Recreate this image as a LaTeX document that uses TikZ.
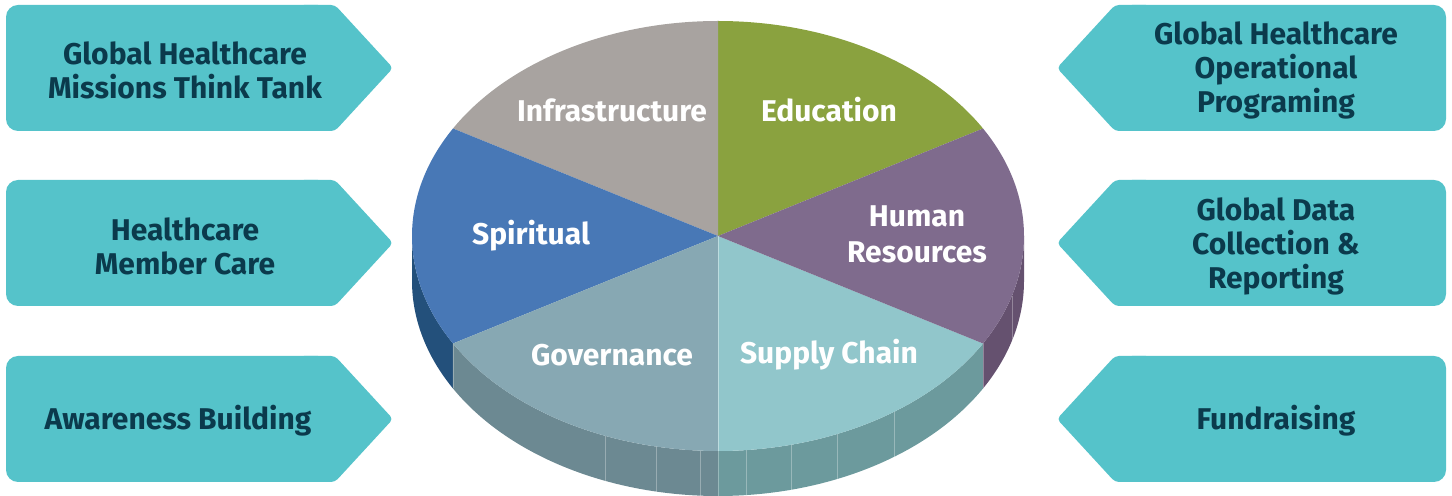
\documentclass[tikz,border=0pt]{standalone}
\usepackage{fontspec}
\setmainfont{Fira Sans}
\usetikzlibrary{positioning}

\definecolor{boxfill}{HTML}{55C3CA}
\definecolor{boxink}{HTML}{0B3A4C}
\definecolor{edu}{HTML}{8AA23F}
\definecolor{infra}{HTML}{A8A3A0}
\definecolor{spirit}{HTML}{4878B6}
\definecolor{gov}{HTML}{87A8B3}
\definecolor{supply}{HTML}{91C6CB}
\definecolor{human}{HTML}{7F6B8D}
\definecolor{spiritside}{HTML}{23507B}
\definecolor{govside}{HTML}{6C8992}
\definecolor{supplyside}{HTML}{6C9A9D}
\definecolor{humanside}{HTML}{65516F}

\begin{document}
\begin{tikzpicture}[x=0.5pt, y=-0.5pt,
    boxlabel/.style={text=boxink, align=center, font=\fontsize{15}{17}\selectfont\bfseries},
    pielabel/.style={text=white, align=center, font=\fontsize{15}{18}\selectfont\bfseries}]
    \useasboundingbox (0,0) rectangle (1452,496);

    % arrow boxes, left pointing right and right pointing left
    \foreach \top in {5,180,356} {
        \fill[boxfill, rounded corners=6pt] (6,\top) rectangle (330,\top+126);
        \fill[boxfill, rounded corners=2pt] (300,\top) -- (335,\top) -- (393,\top+63)
            -- (335,\top+126) -- (300,\top+126) -- cycle;
        \fill[boxfill, rounded corners=6pt] (1120,\top) rectangle (1446,\top+126);
        \fill[boxfill, rounded corners=2pt] (1150,\top) -- (1115,\top) -- (1057,\top+63)
            -- (1115,\top+126) -- (1150,\top+126) -- cycle;
    }

    % pie
    \begin{scope}[shift={(718,236)}, yscale=-1]
        \foreach \a/\b/\col in {180/210/spiritside, 210/270/govside, 270/330/supplyside, 330/360/humanside}
            \fill[\col] (\a:306 and 215) arc[start angle=\a, end angle=\b, x radius=306, y radius=215]
                -- ++(0,-45) arc[start angle=\b, end angle=\a, x radius=306, y radius=215] -- cycle;
        \foreach \t in {210,248.3,258.3,266.6,270,275.3,283.8,292.9,305.1,330,343.9}
            \draw[white, opacity=0.3, line width=0.3pt] (\t:306 and 215) -- ++(0,-45);
        \foreach \a/\b/\col in {30/90/edu, 90/150/infra, 150/210/spirit, 210/270/gov, 270/330/supply, 330/390/human}
            \fill[\col] (0,0) -- (\a:306 and 215)
                arc[start angle=\a, end angle=\b, x radius=306, y radius=215] -- cycle;
        \draw[white, opacity=0.4, line width=0.3pt] (0,0) -- (270:306 and 215);
    \end{scope}

    \node[pielabel] (infrastructure) at (612,110) {Infrastructure};
    \node[pielabel] (education) at (829,110) {Education};
    \node[pielabel] (spiritual) at (531,236) {Spiritual};
    \node[pielabel] (humanres) at (917,234) {Human\\Resources};
    \node[pielabel] (governance) at (612,355) {Governance};
    \node[pielabel] (supplychain) at (829,355) {Supply Chain};

    \node[boxlabel] (thinktank) at (185,70) {Global Healthcare\\Missions Think Tank};
    \node[boxlabel] (membercare) at (185,246) {Healthcare\\Member Care};
    \node[boxlabel] (awareness) at (178,421) {Awareness Building};
    \node[boxlabel] (operational) at (1276,70) {Global Healthcare\\Operational\\Programing};
    \node[boxlabel] (datacollect) at (1276,246) {Global Data\\Collection \&\\Reporting};
    \node[boxlabel] (fundraising) at (1276,421) {Fundraising};
\end{tikzpicture}
\end{document}
